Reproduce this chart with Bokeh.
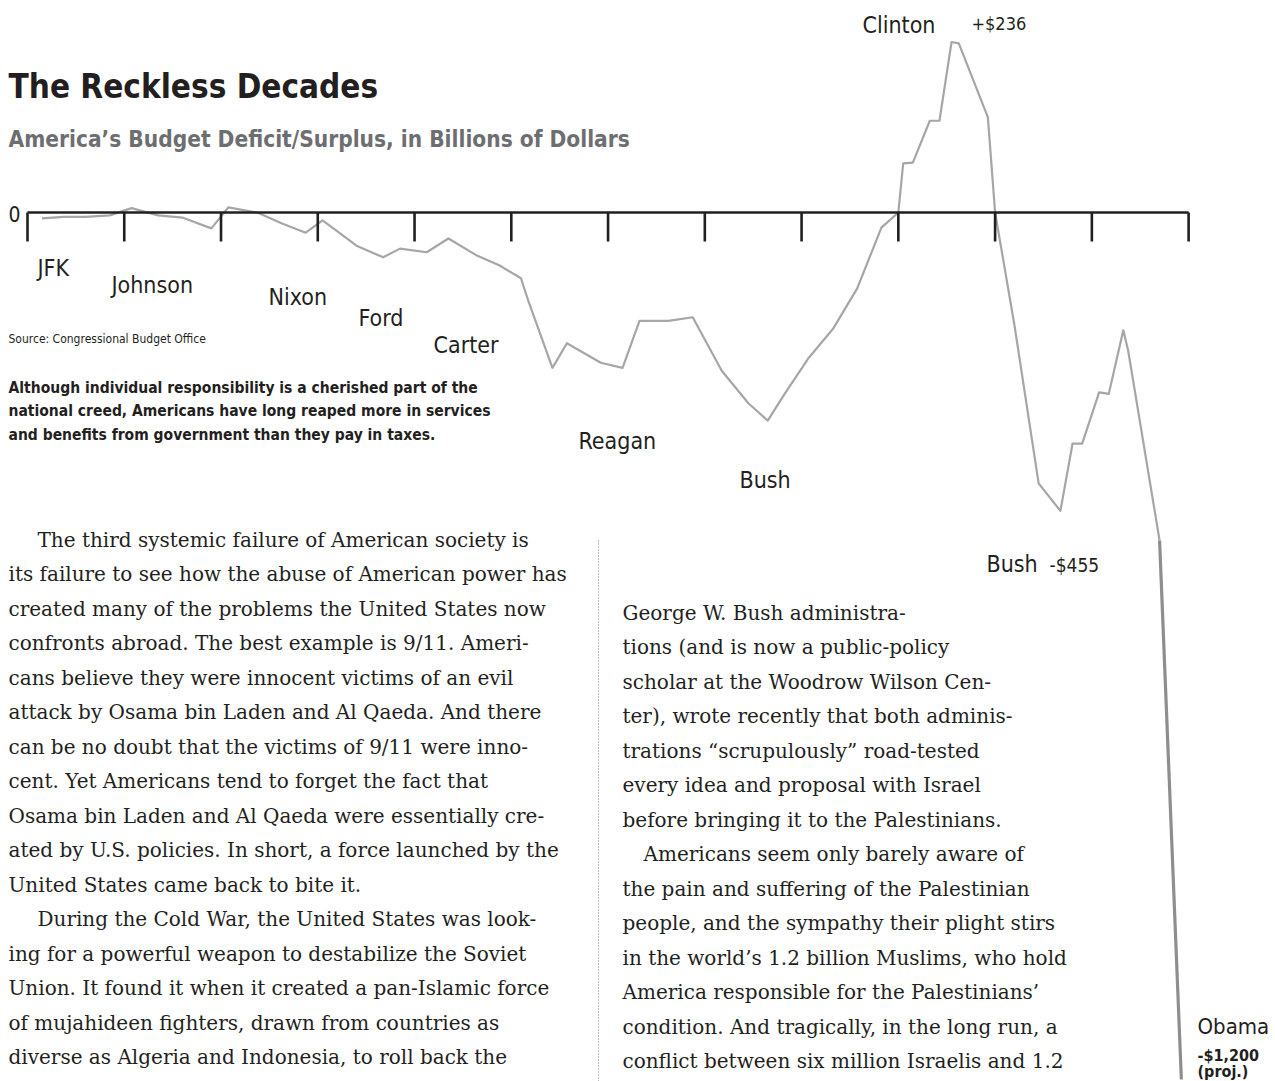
from bokeh.plotting import figure
from bokeh.models import Range1d
from bokeh.core.properties import value
from bokeh.embed import file_html
from bokeh.resources import INLINE

# ---------------- data ----------------
years = [1961.6, 1962.5, 1963.4, 1964.4, 1965.3, 1966.4, 1967.4, 1968.6, 1969.3,
         1970.5, 1971.5, 1972.5, 1973.2, 1974.6, 1975.7, 1976.4, 1977.5, 1978.4,
         1979.6, 1980.5, 1981.4, 1981.7, 1982.7, 1983.3, 1984.7, 1985.6, 1986.3,
         1987.5, 1988.5, 1989.7, 1990.8, 1991.6, 1992.3, 1993.3, 1994.3, 1995.3,
         1996.3, 1997.0, 1997.2, 1997.6, 1998.3, 1998.7, 1999.2, 1999.5, 2000.7,
         2001.0, 2001.8, 2002.8, 2003.7, 2004.2, 2004.6, 2005.3, 2005.7, 2006.3,
         2006.5, 2007.8]
deficit = [-8, -6, -6, -4, 6, -4, -7, -22, 7,
           0, -15, -28, -11, -46, -62, -50, -55, -36,
           -60, -73, -91, -122, -215, -181, -208, -215, -150,
           -150, -145, -219, -264, -288, -251, -201, -161, -105,
           -21, 0, 68, 69, 127, 127, 236, 234, 132,
           0, -156, -375, -413, -320, -320, -249, -251, -163,
           -191, -454]
proj_years = [2007.8, 2008.7]
proj_deficit = [-454, -1200]

tick_years = list(range(1961, 2010, 4))

presidents = ["JFK", "Johnson", "Nixon", "Ford", "Carter", "Reagan", "Bush",
              "Clinton", "Bush", "Obama"]

col1_lines = [
    "The third systemic failure of American society is",
    "its failure to see how the abuse of American power has",
    "created many of the problems the United States now",
    "confronts abroad. The best example is 9/11. Ameri-",
    "cans believe they were innocent victims of an evil",
    "attack by Osama bin Laden and Al Qaeda. And there",
    "can be no doubt that the victims of 9/11 were inno-",
    "cent. Yet Americans tend to forget the fact that",
    "Osama bin Laden and Al Qaeda were essentially cre-",
    "ated by U.S. policies. In short, a force launched by the",
    "United States came back to bite it.",
    "During the Cold War, the United States was look-",
    "ing for a powerful weapon to destabilize the Soviet",
    "Union. It found it when it created a pan-Islamic force",
    "of mujahideen fighters, drawn from countries as",
    "diverse as Algeria and Indonesia, to roll back the",
]
col1_indent = [0, 11]
col2_lines = [
    "George W. Bush administra-",
    "tions (and is now a public-policy",
    "scholar at the Woodrow Wilson Cen-",
    "ter), wrote recently that both adminis-",
    "trations \u201cscrupulously\u201d road-tested",
    "every idea and proposal with Israel",
    "before bringing it to the Palestinians.",
    "Americans seem only barely aware of",
    "the pain and suffering of the Palestinian",
    "people, and the sympathy their plight stirs",
    "in the world\u2019s 1.2 billion Muslims, who hold",
    "America responsible for the Palestinians\u2019",
    "condition. And tragically, in the long run, a",
    "conflict between six million Israelis and 1.2",
]
col2_indent = [7]

title = "The Reckless Decades"
subtitle = "America\u2019s Budget Deficit/Surplus, in Billions of Dollars"
source = "Source: Congressional Budget Office"
blurb = ["Although individual responsibility is a cherished part of the",
         "national creed, Americans have long reaped more in services",
         "and benefits from government than they pay in taxes."]

# ---------------- page-pixel helpers ----------------
def X(px):
    return 1961 + (px - 27) / 24.19

def Y(py):
    return (212 - py) / 0.7225

W, H = 1275, 1081
p = figure(width=W, height=H, x_range=Range1d(X(0), X(W)),
           y_range=Range1d(Y(H), Y(0)), output_backend="svg",
           toolbar_location=None, min_border=0)
p.axis.visible = False
p.grid.visible = False
p.outline_line_color = None
p.background_fill_color = "white"

NARROW = value("'Liberation Sans Narrow', 'DejaVu Sans Condensed', 'Roboto Condensed', 'Open Sans Condensed', Roboto, sans-serif")
SERIF = value("DejaVu Serif")
INK = "#231f20"

def txt(px, py, s, size, color=INK, style="normal", font=NARROW, align="left"):
    # py is the intended baseline in page pixels; compensate renderer offset
    p.text(x=[X(px)], y=[Y(py - 0.38 * size)], text=[s], text_font=font,
           text_font_size=value(f"{size}px"), text_font_style=style,
           text_color=color, text_align=align, text_baseline="alphabetic")

# ---------------- chart ----------------
p.line(years, deficit, line_color="#a6a6a6", line_width=2.2, line_join="round")
p.line(proj_years, proj_deficit, line_color="#8e8e8e", line_width=3.2)

p.line([tick_years[0], tick_years[-1]], [0, 0], line_color=INK, line_width=2.6)
p.segment(x0=tick_years, y0=[0] * len(tick_years), x1=tick_years,
          y1=[Y(241)] * len(tick_years), line_color=INK, line_width=2.6)

txt(8, 221, "0", 21)

# president labels
pres_pos = [(37, 276), (111, 293), (268, 305), (358, 326), (433, 353),
            (578, 449), (739, 488), (862, 33), (986, 572), (1197, 1034)]
pres_size = [23, 23, 23, 23, 23, 23, 23, 23, 23, 22]
for name, (px, py), sz in zip(presidents, pres_pos, pres_size):
    txt(px, py, name, sz)

txt(971, 30, "+$236", 18)
txt(1049, 572, "-$455", 19)
txt(1197, 1061, "-$1,200", 16, style="bold")
txt(1197, 1077, "(proj.)", 16, style="bold")

# titles
txt(8, 99, title, 33, style="bold")
txt(8, 147, subtitle, 22.5, color="#6d6e71", style="bold")
txt(8, 343, source, 12)
for i, line in enumerate(blurb):
    txt(8, 393 + i * 23.5, line, 15.5, style="bold")

# body text
for i, line in enumerate(col1_lines):
    px = 37 if i in col1_indent else 8
    txt(px, 547 + i * 34.5, line, 20, font=SERIF)
for i, line in enumerate(col2_lines):
    px = 643 if i in col2_indent else 622
    txt(px, 620 + i * 34.5, line, 20, font=SERIF)

# column separator
p.line([X(598), X(598)], [Y(540), Y(1081)], line_color="#777777",
       line_width=1, line_dash="1 2")

open("out.html", "w").write(file_html(p, INLINE))
